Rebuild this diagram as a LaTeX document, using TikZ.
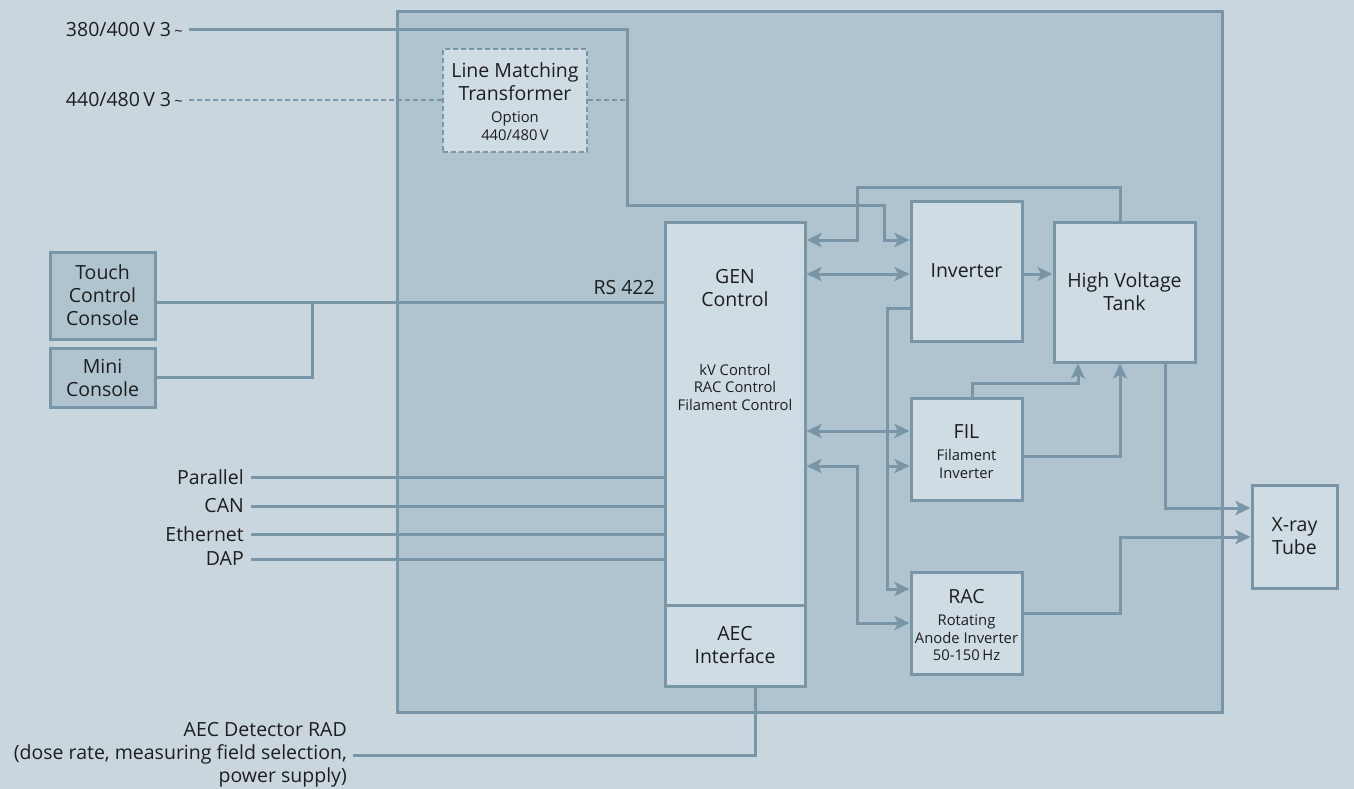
\documentclass[tikz,border=0pt]{standalone}
\usepackage{fontspec}
\setmainfont{Open Sans}
\usetikzlibrary{arrows.meta}
\definecolor{bg}{HTML}{C9D6DE}
\definecolor{mainfill}{HTML}{AFC4CF}
\definecolor{boxfill}{HTML}{CFDCE4}
\definecolor{ln}{HTML}{7896A8}
\definecolor{txt}{HTML}{1E1E1E}
\newcommand{\bigf}{\fontsize{19.5}{23}\selectfont}
\newcommand{\smallf}{\fontsize{14.8}{17.5}\selectfont}
\tikzset{
  blk/.style={draw=ln, line width=3pt, fill=boxfill, inner sep=0pt, text=txt, align=center, font=\bigf},
  dblk/.style={blk, fill=mainfill},
  tbig/.style={text=txt, align=center, font=\bigf, inner sep=0pt},
  tsmall/.style={text=txt, align=center, font=\smallf, inner sep=0pt},
  lbl/.style={text=txt, align=right, font=\bigf, inner sep=0pt, anchor=east},
  conn/.style={draw=ln, line width=3pt},
  dashconn/.style={draw=ln, line width=2.6pt, dash pattern=on 5pt off 3pt},
  arr/.style={-{Stealth[length=15pt,width=14pt,inset=3.5pt]}},
  arrboth/.style={{Stealth[length=15pt,width=14pt,inset=3.5pt]}-{Stealth[length=15pt,width=14pt,inset=3.5pt]}}
}
\begin{document}
\begin{tikzpicture}[x=1pt,y=-1pt]
\fill[bg] (0,0) rectangle (1354,789);
\useasboundingbox (0,0) rectangle (1354,789);
% main enclosure
\node[draw=ln, line width=3pt, fill=mainfill, minimum width=825pt, minimum height=700pt, inner sep=0pt] (main) at (809.5,362) {};

% helper coordinates
\coordinate (h240) at (0,240);
\coordinate (h274) at (0,274);
\coordinate (h302) at (0,302);
\coordinate (h308) at (0,308);
\coordinate (h377) at (0,377);
\coordinate (h431) at (0,431);
\coordinate (h456) at (0,456);
\coordinate (h466) at (0,466);
\coordinate (h508) at (0,508);
\coordinate (h537) at (0,537);
\coordinate (h589) at (0,589);
\coordinate (h613) at (0,613);
\coordinate (h623) at (0,623);
\coordinate (v755) at (755,0);
\coordinate (v972) at (972,0);
\coordinate (v1078) at (1078,0);
\coordinate (v1120) at (1120,0);
\coordinate (v1165) at (1165,0);

% boxes
\node[blk, dashconn, minimum width=144pt, minimum height=103pt] (lmt) at (515,100.5) {};
\node[tbig] (lmtt) at (515,82) {Line Matching\\Transformer};
\node[tsmall] (lmts) at (515,126) {Option\\440/480\,V};

\node[dblk, minimum width=105pt, minimum height=87pt] (touch) at (102.5,295.5) {Touch\\Control\\Console};
\node[dblk, minimum width=105pt, minimum height=59pt] (mini) at (102.5,377.5) {Mini\\Console};

\node[blk, minimum width=140pt, minimum height=383pt] (gen) at (735,413.5) {};
\node[tbig] (gent) at (735,288) {GEN\\Control};
\node[tsmall] (gens) at (735,387) {kV Control\\RAC Control\\Filament Control};
\node[blk, minimum width=140pt, minimum height=81pt] (aec) at (735,645.5) {AEC\\Interface};

\node[blk, minimum width=111pt, minimum height=140pt] (inv) at (966.5,271) {Inverter};
\node[blk, minimum width=141pt, minimum height=140pt] (hvt) at (1124.5,292) {High Voltage\\Tank};
\node[blk, minimum width=111pt, minimum height=102pt] (fil) at (966.5,449) {};
\node[tbig] (filt) at (966.5,432) {FIL};
\node[tsmall] (fils) at (966.5,464) {Filament\\Inverter};
\node[blk, minimum width=111pt, minimum height=102pt] (rac) at (966.5,623) {};
\node[tbig] (ract) at (966.5,597) {RAC};
\node[tsmall] (racs) at (966.5,638) {Rotating\\Anode Inverter\\50-150\,Hz};
\node[blk, minimum width=85pt, minimum height=103pt] (xray) at (1294.5,536.5) {X-ray\\Tube};

% outside labels
\node[lbl] (l380) at (183,30) {380/400\,V 3\,{\smallf\textasciitilde}};
\node[lbl] (l440) at (183,100) {440/480\,V 3\,{\smallf\textasciitilde}};
\node[tbig, anchor=base east] (rs) at (655,294) {RS 422};
\node[lbl] (lpar) at (244,477) {Parallel};
\node[lbl] (lcan) at (244,506) {CAN};
\node[lbl] (leth) at (244,534) {Ethernet};
\node[lbl] (ldap) at (244,559) {DAP};
\node[lbl] (aecdet) at (347,755) {AEC Detector RAD\\(dose rate, measuring field selection,\\power supply)};

% connectors
\draw[conn,arr] ([xshift=6pt]l380.east) -- (627,30) -- (627,205) -- (884,205) -- (884,240) -- (inv.west |- h240);
\draw[dashconn] ([xshift=6pt]l440.east) -- (lmt.west |- l440.east);
\draw[dashconn] (lmt.east |- l440.east) -- (627,100);
\draw[conn,arr] (hvt.north -| v1120) -- (1120,187) -- (857,187) -- (857,240) -- (gen.east |- h240);
\draw[conn,arrboth] (gen.east |- h274) -- (inv.west |- h274);
\draw[conn,arr] (inv.east |- h274) -- (hvt.west |- h274);
\draw[conn,arr] (inv.west |- h308) -- (887,308) -- (887,589) -- (rac.west |- h589);
\draw[conn,arr] (887,466) -- (fil.west |- h466);
\draw[conn,arrboth] (gen.east |- h431) -- (fil.west |- h431);
\draw[conn,arrboth] (gen.east |- h466) -- (857,466) -- (857,623) -- (rac.west |- h623);
\draw[conn,arr] (fil.north -| v972) -- (972,383) -- (1078,383) -- (hvt.south -| v1078);
\draw[conn,arr] (fil.east |- h456) -- (1120,456) -- (hvt.south -| v1120);
\draw[conn,arr] (hvt.south -| v1165) -- (1165,508) -- (xray.west |- h508);
\draw[conn,arr] (rac.east |- h613) -- (1120,613) -- (1120,537) -- (xray.west |- h537);
\draw[conn] (aec.south -| v755) |- ([xshift=6pt]aecdet.east);
\draw[conn] (touch.east |- h302) -- (gen.west |- h302);
\draw[conn] (312,302) -- (312,377) -- (mini.east |- h377);
\draw[conn] ([xshift=7pt]lpar.east) -- (gen.west |- lpar.east);
\draw[conn] ([xshift=7pt]lcan.east) -- (gen.west |- lcan.east);
\draw[conn] ([xshift=7pt]leth.east) -- (gen.west |- leth.east);
\draw[conn] ([xshift=7pt]ldap.east) -- (gen.west |- ldap.east);
\end{tikzpicture}
\end{document}
